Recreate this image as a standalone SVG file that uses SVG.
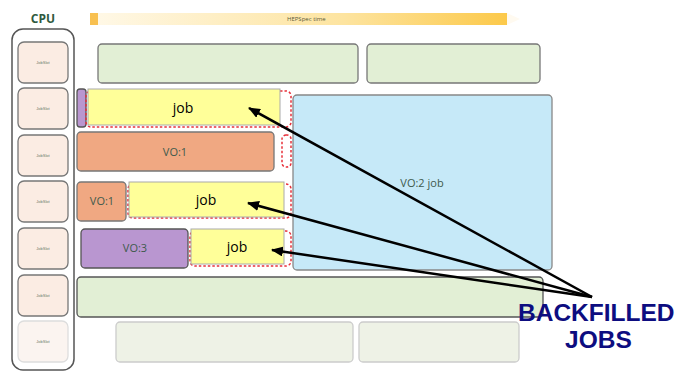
<svg xmlns="http://www.w3.org/2000/svg" width="676" height="372" viewBox="0 0 676 372">
  <defs>
    <linearGradient id="hepGrad" x1="0" y1="0" x2="1" y2="0">
      <stop offset="0" stop-color="#fff8e6"/>
      <stop offset="0.6" stop-color="#fde4a0"/>
      <stop offset="1" stop-color="#fcc94a"/>
    </linearGradient>
    <marker id="arrowHead" markerWidth="12" markerHeight="10" refX="11" refY="5" orient="auto" markerUnits="userSpaceOnUse">
      <path d="M0,0 L12,5 L0,10 Z" fill="#000"/>
    </marker>
    <style>
      .slot { fill: #fbece3; stroke: #777; stroke-width: 1.3; }
      .slot-faded { fill: #fbf4f0; stroke: #ddd; stroke-width: 1.3; }
      .slot-label { font-family: "Liberation Sans", Arial, sans-serif; font-size: 4px; fill: #6b7a6b; text-anchor: middle; }
      .green { fill: #e2efd5; stroke: #777; stroke-width: 1.3; }
      .green-dark { fill: #e2efd5; stroke: #555; stroke-width: 1.3; }
      .green-faded { fill: #eef2e6; stroke: #ccc; stroke-width: 1.3; }
      .job { fill: #ffff99; stroke: #aaa; stroke-width: 1; }
      .vo1 { fill: #f0a882; stroke: #777; stroke-width: 1.3; }
      .vo3 { fill: #b996d0; stroke: #555; stroke-width: 1.3; }
      .vo2 { fill: #c6e9f8; stroke: #888; stroke-width: 1.3; }
      .gap { fill: none; stroke: #e8303a; stroke-width: 1.5; stroke-dasharray: 2.5 2; }
      .job-label { font-family: "Open Sans", "Liberation Sans", sans-serif; font-size: 14px; fill: #000; text-anchor: middle; }
      .vo-label { font-family: "Open Sans", "Liberation Sans", sans-serif; font-size: 11px; fill: #3e5a4c; text-anchor: middle; }
      .pointer { stroke: #000; stroke-width: 2.5; fill: none; marker-end: url(#arrowHead); }
      .big-label { font-family: "Liberation Sans", Arial, sans-serif; font-size: 24.5px; font-weight: bold; fill: #0d0d80; }
    </style>
  </defs>

  <!-- header -->
  <g id="cpu-title">
    <text x="43" y="23" font-family="Open Sans, Liberation Sans, sans-serif" font-size="12" font-weight="bold" fill="#2f5a3e" text-anchor="middle">CPU</text>
  </g>
  <g id="hepspec-axis">
    <polygon points="507,13 520,19 507,25" fill="#fffaf0"/>
    <rect x="98" y="13" width="409" height="12" fill="url(#hepGrad)"/>
    <rect x="90" y="13" width="8" height="12" fill="#f8c050"/>
    <text x="287" y="21" font-family="Open Sans, Liberation Sans, sans-serif" font-size="6" fill="#5a5a3a">HEPSpec time</text>
  </g>

  <!-- CPU column with job slots -->
  <g id="cpu">
    <rect x="12" y="29" width="62" height="341" rx="11" fill="#fff" stroke="#555" stroke-width="1.5"/>
    <g id="slot-1"><rect class="slot" x="18" y="42" width="50" height="41" rx="6"/><text class="slot-label" x="43" y="64">JobSlot</text></g>
    <g id="slot-2"><rect class="slot" x="18" y="88" width="50" height="41" rx="6"/><text class="slot-label" x="43" y="110">JobSlot</text></g>
    <g id="slot-3"><rect class="slot" x="18" y="135" width="50" height="41" rx="6"/><text class="slot-label" x="43" y="157">JobSlot</text></g>
    <g id="slot-4"><rect class="slot" x="18" y="181" width="50" height="41" rx="6"/><text class="slot-label" x="43" y="203">JobSlot</text></g>
    <g id="slot-5"><rect class="slot" x="18" y="228" width="50" height="41" rx="6"/><text class="slot-label" x="43" y="250">JobSlot</text></g>
    <g id="slot-6"><rect class="slot" x="18" y="275" width="50" height="41" rx="6"/><text class="slot-label" x="43" y="297">JobSlot</text></g>
    <g id="slot-7"><rect class="slot-faded" x="18" y="321" width="50" height="41" rx="6"/><text class="slot-label" x="43" y="343">JobSlot</text></g>
  </g>

  <!-- row 1 -->
  <g id="row1-a"><rect class="green" x="98" y="44" width="260" height="39" rx="4"/></g>
  <g id="row1-b"><rect class="green" x="367" y="44" width="173" height="39" rx="4"/></g>

  <!-- VO:2 long job -->
  <g id="vo2-job">
    <rect class="vo2" x="293" y="95" width="259" height="175" rx="4"/>
    <text class="vo-label" x="422" y="187">VO:2 job</text>
  </g>

  <!-- row 2 -->
  <g id="row2-vo3"><rect class="vo3" x="77" y="89" width="9" height="38" rx="3"/></g>
  <g id="row2-job">
    <rect class="gap" x="86" y="91" width="205" height="36" rx="5"/>
    <rect class="job" x="88" y="89" width="192" height="36"/>
    <text class="job-label" x="183" y="113">job</text>
  </g>

  <!-- row 3 -->
  <g id="row3-vo1">
    <rect class="vo1" x="77" y="132" width="197" height="39" rx="4"/>
    <text class="vo-label" x="175" y="156">VO:1</text>
  </g>
  <g id="row3-gap"><rect class="gap" x="282" y="135" width="9" height="32" rx="4"/></g>

  <!-- row 4 -->
  <g id="row4-vo1">
    <rect class="vo1" x="77" y="182" width="49" height="39" rx="4"/>
    <text class="vo-label" x="102" y="205">VO:1</text>
  </g>
  <g id="row4-job">
    <rect class="gap" x="128" y="184" width="163" height="34" rx="5"/>
    <rect class="job" x="129" y="182" width="155" height="35"/>
    <text class="job-label" x="206" y="205">job</text>
  </g>

  <!-- row 5 -->
  <g id="row5-vo3">
    <rect class="vo3" x="81" y="229" width="107" height="39" rx="4"/>
    <text class="vo-label" x="135" y="252">VO:3</text>
  </g>
  <g id="row5-job">
    <rect class="gap" x="190" y="231" width="101" height="35" rx="5"/>
    <rect class="job" x="191" y="229" width="93" height="35"/>
    <text class="job-label" x="237" y="252">job</text>
  </g>

  <!-- row 6 -->
  <g id="row6"><rect class="green-dark" x="77" y="277" width="466" height="40" rx="4"/></g>

  <!-- row 7 -->
  <g id="row7-a"><rect class="green-faded" x="116" y="322" width="237" height="40" rx="4"/></g>
  <g id="row7-b"><rect class="green-faded" x="359" y="322" width="160" height="40" rx="4"/></g>

  <!-- pointers to the backfilled jobs -->
  <g id="connectors">
    <line class="pointer" x1="592" y1="297" x2="249" y2="108"/>
    <line class="pointer" x1="592" y1="297" x2="248" y2="203"/>
    <line class="pointer" x1="592" y1="297" x2="272" y2="250"/>
  </g>

  <g id="backfilled-label">
    <text class="big-label" x="518" y="321">BACKFILLED</text>
    <text class="big-label" x="565" y="348">JOBS</text>
  </g>
</svg>
